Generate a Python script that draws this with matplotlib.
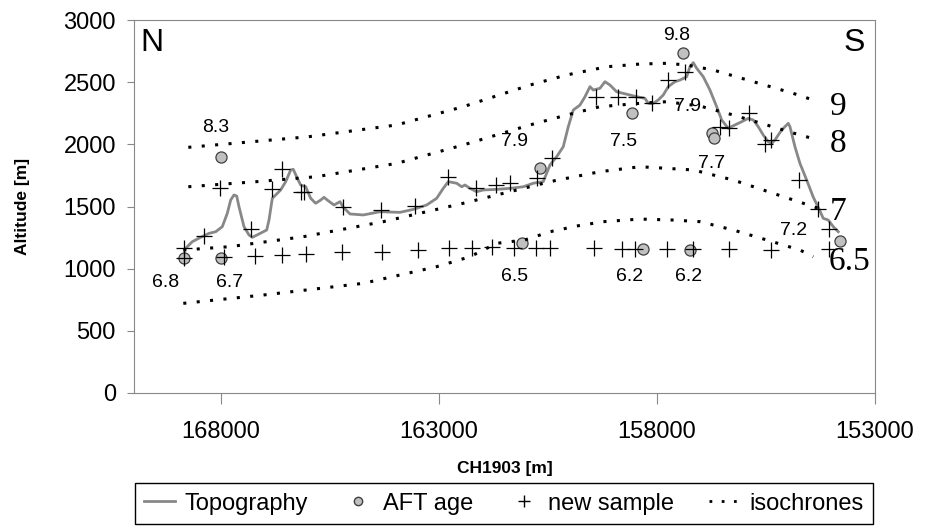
import matplotlib
matplotlib.use("Agg")
import matplotlib.pyplot as plt
from matplotlib.lines import Line2D

plt.rcParams['font.family'] = ['Liberation Sans', 'DejaVu Sans']

# topography profile (CH1903 easting, altitude)
topo_x = [168814, 168663, 168470, 168280, 168126, 167974, 167860, 167782, 167706, 167644,
          167591, 167477, 167362, 167286, 167132, 166956, 166903, 166827, 166635, 166520,
          166405, 166346, 166254, 166176, 166061, 165947, 165832, 165717, 165641, 165566,
          165412, 165274, 165199, 165045, 164740, 164357, 163898, 163593, 163286, 163056,
          162905, 162790, 162597, 162483, 162407, 162292, 162139, 161987, 161680, 161375,
          161069, 160840, 160611, 160457, 160303, 160152, 160037, 159922, 159769, 159654,
          159539, 159464, 159310, 159195, 159081, 158927, 158775, 158622, 158468, 158278,
          158202, 158087, 157973, 157858, 157743, 157589, 157475, 157321, 157245, 157170,
          157092, 156940, 156787, 156633, 156518, 156367, 156213, 156059, 155908, 155793,
          155679, 155564, 155449, 155371, 155295, 155220, 155142, 155066, 154990, 154951,
          154837, 154722, 154568, 154417, 154263, 154188, 154073, 153958, 153843]
topo_y = [1164, 1217, 1252, 1284, 1297, 1338, 1445, 1552, 1593, 1584,
          1498, 1338, 1271, 1252, 1279, 1311, 1391, 1566, 1633, 1700,
          1794, 1799, 1727, 1673, 1659, 1566, 1526, 1552, 1574, 1552,
          1512, 1539, 1494, 1440, 1432, 1458, 1453, 1477, 1512, 1566,
          1646, 1700, 1687, 1659, 1673, 1646, 1619, 1633, 1638, 1646,
          1659, 1687, 1700, 1834, 1901, 1981, 2142, 2276, 2316, 2383,
          2464, 2437, 2451, 2504, 2477, 2423, 2410, 2397, 2383, 2370,
          2330, 2330, 2357, 2397, 2464, 2504, 2517, 2544, 2624, 2657,
          2612, 2544, 2437, 2303, 2196, 2129, 2156, 2182, 2209, 2196,
          2142, 2075, 2021, 2008, 2035, 2075, 2115, 2142, 2169, 2142,
          1981, 1847, 1713, 1576, 1464, 1405, 1391, 1338, 1297]

# AFT ages
aft_x = [168853, 168011, 168011, 161106, 160686, 158583, 157413, 156748, 156688, 158330, 157245, 153804]
aft_y = [1083, 1083, 1901, 1209, 1807, 2254, 2737, 2094, 2049, 1158, 1150, 1223]

# age labels
age_text = ["6.8", "6.7", "8.3", "6.5", "7.9", "7.5", "9.8", "7.9", "7.7", "6.2", "6.2", "7.2"]
age_x = [169266, 167814, 168119, 161260, 161260, 158759, 157550, 157291, 156748, 158622, 157268, 154876]
age_y = [887, 887, 2134, 935, 2021, 2021, 2879, 2308, 1847, 935, 935, 1305]

# new samples
new_x = [168853, 168394, 168027, 167323, 166827, 166598, 166176, 166100, 165212, 164341,
         163554, 162790, 162162, 161703, 161375, 160755, 160418, 159402, 158890, 158484,
         158117, 157743, 157360, 156557, 156344, 155885, 155525, 155394, 154738, 154302,
         154057,
         168853, 167935, 167231, 166598, 166047, 165235, 164318, 163478, 162767, 162253,
         161781, 161283, 160778, 160457, 159441, 158798, 158496, 157780, 157170, 156344,
         155394, 154057]
new_y = [1164, 1263, 1646, 1317, 1641, 1799, 1619, 1619, 1494, 1472,
         1504, 1735, 1646, 1673, 1689, 1727, 1888, 2383, 2377, 2377,
         2336, 2517, 2578, 2142, 2135, 2250, 2003, 2035, 1713, 1477,
         1321,
         1083, 1096, 1102, 1110, 1118, 1132, 1136, 1150, 1164, 1164,
         1172, 1170, 1166, 1166, 1166, 1156, 1156, 1156, 1156, 1156,
         1150, 1156]

# isochrones
iso9_x = [168754, 166002, 163974, 162446, 160916, 160074, 159156, 158392, 157780, 157321, 156711, 155793, 154876, 154302]
iso9_y = [1976, 2061, 2156, 2303, 2477, 2558, 2624, 2646, 2652, 2638, 2598, 2504, 2410, 2343]
iso8_x = [168754, 167185, 165809, 163974, 162446, 160916, 160074, 159310, 158392, 157780, 157016, 156252, 155486, 154722, 154302]
iso8_y = [1659, 1700, 1740, 1847, 1995, 2156, 2236, 2303, 2330, 2343, 2308, 2236, 2156, 2075, 2035]
iso7_x = [168869, 167798, 166116, 164281, 162446, 160916, 160457, 159310, 158392, 157170, 156252, 155335, 154302]
iso7_y = [1150, 1177, 1257, 1378, 1526, 1659, 1700, 1780, 1820, 1794, 1713, 1606, 1486]
iso65_x = [168869, 167034, 164740, 163056, 162292, 161680, 161030, 160457, 159845, 159234, 158392, 157629, 157016, 156252, 155486, 154722, 154417]
iso65_y = [721, 788, 882, 1016, 1096, 1204, 1231, 1297, 1343, 1378, 1399, 1391, 1378, 1311, 1231, 1150, 1096]
iso_labels = ["9", "8", "7", "6.5"]
iso_label_x = [153843, 153843, 153843, 153575]
iso_label_y = [2303, 2008, 1458, 1056]

fig = plt.figure(figsize=(9.28, 5.27), dpi=100)
ax = fig.add_axes([0.1444, 0.2543, 0.7985, 0.7077])

grey = "#888888"
ax.plot(topo_x, topo_y, color=grey, lw=2.0, zorder=2)
ax.plot(aft_x, aft_y, "o", ms=8, mfc="#c0c0c0", mec="#404040", mew=0.9, ls="none", zorder=3)
ax.plot(new_x, new_y, "+", ms=11, color="black", mew=0.9, ls="none", zorder=4)
dots = (0, (1, 3.4))
for xs, ys in [(iso9_x, iso9_y), (iso8_x, iso8_y), (iso7_x, iso7_y), (iso65_x, iso65_y)]:
    ax.plot(xs, ys, color="black", lw=2.2, ls=dots, dash_capstyle="butt", zorder=5)

for t, x, y in zip(age_text, age_x, age_y):
    ax.text(x, y, t, fontsize=14, ha="center", va="center", zorder=6)
for t, x, y in zip(iso_labels, iso_label_x, iso_label_y):
    ax.text(x, y, t, fontsize=24, ha="center", va="center", family=["Liberation Serif", "DejaVu Serif"], zorder=6)
ax.text(169594, 2813, "N", fontsize=23, ha="center", va="center")
ax.text(153483, 2813, "S", fontsize=23, ha="center", va="center")

ax.set_xlim(170000, 153000)
ax.set_ylim(0, 3000)
ax.set_xticks([168000, 163000, 158000, 153000])
ax.set_yticks(range(0, 3001, 500))
ax.tick_params(axis="x", direction="out", length=8, color=grey, labelsize=17, pad=12)
ax.tick_params(axis="y", direction="out", length=5, color=grey, labelsize=17, pad=8)
for s in ax.spines.values():
    s.set_color(grey)
ax.set_xlabel("CH1903 [m]", fontsize=12.5, fontweight="bold", labelpad=13)
ax.set_ylabel("Altitude [m]", fontsize=12.5, fontweight="bold", labelpad=24)

handles = [Line2D([], [], color=grey, lw=2),
           Line2D([], [], marker="o", ms=6, mfc="#c0c0c0", mec="#404040", ls="none"),
           Line2D([], [], marker="+", ms=9, color="black", ls="none"),
           Line2D([], [], color="black", lw=2, ls=dots, dash_capstyle="butt")]
fig.legend(handles, ["Topography", "AFT age", "new sample", "isochrones"],
           loc="upper left", bbox_to_anchor=(0.145, 0.0, 0.796, 0.083), mode="expand",
           ncol=4, fontsize=17, frameon=True, fancybox=False, edgecolor="black",
           handlelength=1.3, handletextpad=0.4, borderaxespad=0, framealpha=1)

fig.savefig("out.png", dpi=100)
